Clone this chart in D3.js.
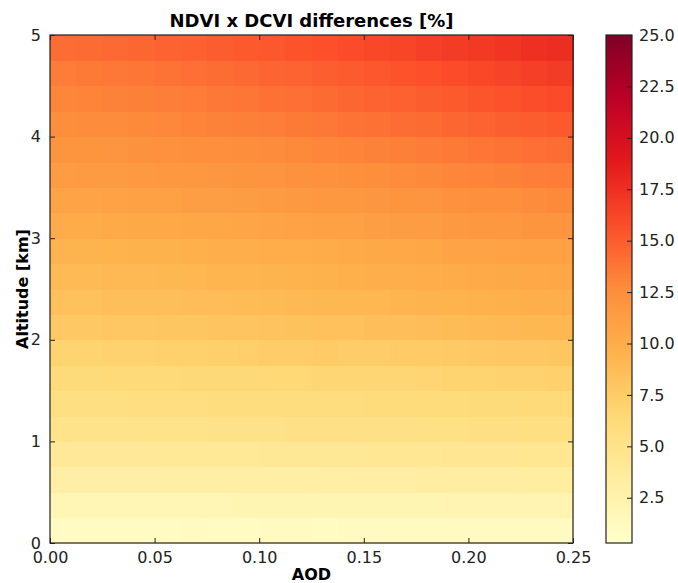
<!DOCTYPE html>
<html>
<head>
<meta charset="utf-8">
<script src="https://cdn.jsdelivr.net/npm/d3@7"></script>
<style>
  body { margin: 0; background: #fff; }
  svg text { font-family: "DejaVu Sans", "Liberation Sans", sans-serif; }
</style>
</head>
<body>
<div id="chart"></div>
<script>
// AOD bin starts (20 columns) and altitude bin starts in km (20 rows)
const aodBins = [0, 0.0125, 0.025, 0.0375, 0.05, 0.0625, 0.075, 0.0875, 0.1, 0.1125,
  0.125, 0.1375, 0.15, 0.1625, 0.175, 0.1875, 0.2, 0.2125, 0.225, 0.2375];
const altBins = [0, 0.25, 0.5, 0.75, 1, 1.25, 1.5, 1.75, 2, 2.25,
  2.5, 2.75, 3, 3.25, 3.5, 3.75, 4, 4.25, 4.5, 4.75];

// differences [%], one row per altitude bin (bottom to top), one value per AOD bin
const diffs = [
  [1.0, 1.0, 1.0, 1.0, 1.0, 1.1, 1.0, 1.0, 1.1, 1.1, 1.0, 1.1, 1.1, 1.1, 1.1, 1.1, 1.1, 1.1, 1.1, 1.1],
  [2.0, 2.0, 2.0, 2.0, 2.0, 2.0, 2.0, 2.1, 2.1, 2.1, 2.1, 2.1, 2.1, 2.1, 2.1, 2.2, 2.2, 2.2, 2.2, 2.2],
  [3.0, 3.0, 3.0, 3.0, 3.1, 3.1, 3.1, 3.1, 3.1, 3.1, 3.2, 3.2, 3.2, 3.2, 3.3, 3.3, 3.3, 3.3, 3.4, 3.4],
  [4.0, 4.0, 4.0, 4.0, 4.1, 4.1, 4.1, 4.1, 4.2, 4.2, 4.2, 4.2, 4.3, 4.3, 4.3, 4.4, 4.4, 4.4, 4.5, 4.5],
  [4.9, 4.9, 4.9, 5.0, 5.0, 5.0, 5.1, 5.1, 5.1, 5.2, 5.2, 5.2, 5.3, 5.3, 5.4, 5.4, 5.5, 5.5, 5.6, 5.6],
  [5.6, 5.6, 5.6, 5.7, 5.7, 5.7, 5.8, 5.8, 5.8, 5.9, 5.9, 5.9, 6.0, 6.0, 6.1, 6.1, 6.2, 6.2, 6.3, 6.3],
  [6.2, 6.2, 6.3, 6.3, 6.3, 6.4, 6.4, 6.4, 6.5, 6.5, 6.6, 6.6, 6.7, 6.7, 6.8, 6.9, 6.9, 7.0, 7.0, 7.1],
  [6.9, 6.9, 7.0, 7.0, 7.1, 7.1, 7.2, 7.3, 7.5, 7.5, 7.6, 7.4, 7.5, 7.6, 7.6, 7.7, 7.8, 7.9, 7.9, 8.0],
  [7.8, 7.8, 7.9, 7.9, 8.0, 8.0, 8.1, 8.1, 8.2, 8.3, 8.4, 8.4, 8.5, 8.6, 8.7, 8.8, 8.9, 9.0, 9.1, 9.2],
  [8.4, 8.4, 8.5, 8.5, 8.6, 8.7, 8.7, 8.8, 8.9, 9.0, 9.1, 9.1, 9.2, 9.3, 9.4, 9.5, 9.6, 9.7, 9.8, 9.9],
  [8.9, 8.9, 9.0, 9.0, 9.1, 9.2, 9.3, 9.3, 9.4, 9.5, 9.6, 9.7, 9.8, 9.9, 10.0, 10.1, 10.2, 10.3, 10.4, 10.5],
  [9.4, 9.4, 9.5, 9.6, 9.6, 9.7, 9.8, 9.9, 10.0, 10.0, 10.1, 10.2, 10.3, 10.4, 10.5, 10.7, 10.8, 10.9, 11.0, 11.1],
  [10.1, 10.1, 10.2, 10.3, 10.4, 10.5, 10.5, 10.6, 10.8, 10.9, 11.0, 11.1, 11.2, 11.3, 11.4, 11.6, 11.7, 11.8, 12.0, 12.1],
  [10.8, 10.8, 10.9, 11.0, 11.1, 11.2, 11.2, 11.3, 11.5, 11.6, 11.7, 11.8, 11.9, 12.0, 12.1, 12.3, 12.4, 12.5, 12.7, 12.8],
  [11.4, 11.5, 11.5, 11.6, 11.7, 11.8, 11.9, 12.0, 12.1, 12.2, 12.3, 12.4, 12.6, 12.7, 12.8, 13.0, 13.1, 13.2, 13.4, 13.5],
  [12.0, 12.0, 12.1, 12.2, 12.3, 12.4, 12.5, 12.6, 12.7, 12.8, 13.0, 13.1, 13.2, 13.3, 13.5, 13.6, 13.8, 13.9, 14.1, 14.2],
  [12.6, 12.7, 12.7, 12.8, 12.9, 13.1, 13.2, 13.3, 13.4, 13.6, 13.7, 13.9, 14.0, 14.2, 14.3, 14.5, 14.7, 14.9, 15.0, 15.2],
  [13.0, 13.1, 13.2, 13.3, 13.4, 13.5, 13.7, 13.8, 14.0, 14.1, 14.3, 14.5, 14.7, 14.8, 15.0, 15.2, 15.4, 15.6, 15.8, 16.0],
  [13.5, 13.6, 13.7, 13.8, 13.9, 14.1, 14.2, 14.4, 14.6, 14.7, 14.9, 15.1, 15.3, 15.5, 15.7, 15.9, 16.1, 16.4, 16.6, 16.8],
  [14.2, 14.3, 14.4, 14.5, 14.7, 14.8, 15.0, 15.2, 15.3, 15.5, 15.7, 15.9, 16.1, 16.3, 16.6, 16.8, 17.0, 17.2, 17.5, 17.7]
];

const xTicks = [0, 0.05, 0.1, 0.15, 0.2, 0.25];
const yTicks = [0, 1, 2, 3, 4, 5];
const cbTicks = [2.5, 5, 7.5, 10, 12.5, 15, 17.5, 20, 22.5, 25];
const colorRange = [0.3, 25];
const ylorrd = ["#ffffcc", "#ffeda0", "#fed976", "#feb24c", "#fd8d3c", "#fc4e2a", "#e31a1c", "#bd0026", "#800026"];

const width = 678, height = 583;
const plot = { left: 50, right: 573, top: 35, bottom: 543 };
const cbar = { left: 606, right: 632 };
const font = "DejaVu Sans, Liberation Sans, sans-serif";

const svg = d3.select("#chart").append("svg")
  .attr("width", width).attr("height", height)
  .attr("font-family", font);

const x = d3.scaleLinear().domain([0, 0.25]).range([plot.left, plot.right]);
const y = d3.scaleLinear().domain([0, 5]).range([plot.bottom, plot.top]);
const cbY = d3.scaleLinear().domain(colorRange).range([plot.bottom, plot.top]);

const color = d3.scaleLinear()
  .domain(ylorrd.map((c, i) => colorRange[0] + (colorRange[1] - colorRange[0]) * i / (ylorrd.length - 1)))
  .range(ylorrd)
  .interpolate(d3.interpolateRgb)
  .clamp(true);

const cells = [];
diffs.forEach((row, r) => {
  row.forEach((v, c) => cells.push({ a: aodBins[c], h: altBins[r], v: v }));
});

const dx = 0.0125, dh = 0.25;
svg.append("g").selectAll("rect")
  .data(cells)
  .join("rect")
  .attr("x", d => x(d.a))
  .attr("y", d => y(d.h + dh))
  .attr("width", d => x(d.a + dx) - x(d.a) + 0.5)
  .attr("height", d => y(d.h) - y(d.h + dh) + 0.5)
  .attr("fill", d => color(d.v))
  .attr("shape-rendering", "crispEdges");

// axes, ticks pointing inward like classic matplotlib
const tickLen = 5;
const fontSize = 16;
const axisColor = "#222";

function styleAxis(g) {
  g.attr("font-family", font).attr("font-size", fontSize);
  g.select(".domain").remove();
  g.selectAll("line").attr("stroke", axisColor);
  g.selectAll("text").attr("fill", axisColor);
}

svg.append("g")
  .attr("transform", `translate(0,${plot.bottom})`)
  .call(d3.axisBottom(x).tickValues(xTicks).tickFormat(d3.format(".2f")).tickSizeInner(-tickLen).tickSizeOuter(0).tickPadding(9))
  .call(styleAxis);
svg.append("g")
  .attr("transform", `translate(0,${plot.top})`)
  .call(d3.axisTop(x).tickValues(xTicks).tickFormat("").tickSizeInner(-tickLen).tickSizeOuter(0))
  .call(styleAxis);
svg.append("g")
  .attr("transform", `translate(${plot.left},0)`)
  .call(d3.axisLeft(y).tickValues(yTicks).tickFormat(d3.format("d")).tickSizeInner(-tickLen).tickSizeOuter(0).tickPadding(9))
  .call(styleAxis);
svg.append("g")
  .attr("transform", `translate(${plot.right},0)`)
  .call(d3.axisRight(y).tickValues(yTicks).tickFormat("").tickSizeInner(-tickLen).tickSizeOuter(0))
  .call(styleAxis);

svg.append("rect")
  .attr("x", plot.left).attr("y", plot.top)
  .attr("width", plot.right - plot.left).attr("height", plot.bottom - plot.top)
  .attr("fill", "none").attr("stroke", axisColor).attr("stroke-width", 1.2);

// colorbar
const defs = svg.append("defs");
const grad = defs.append("linearGradient").attr("id", "cbgrad")
  .attr("x1", 0).attr("y1", 1).attr("x2", 0).attr("y2", 0);
ylorrd.forEach((c, i) => {
  grad.append("stop").attr("offset", i / (ylorrd.length - 1)).attr("stop-color", c);
});
svg.append("rect")
  .attr("x", cbar.left).attr("y", plot.top)
  .attr("width", cbar.right - cbar.left).attr("height", plot.bottom - plot.top)
  .attr("fill", "url(#cbgrad)");
svg.append("g")
  .attr("transform", `translate(${cbar.right},0)`)
  .call(d3.axisRight(cbY).tickValues(cbTicks).tickFormat(d3.format(".1f")).tickSizeInner(-tickLen).tickSizeOuter(0).tickPadding(7))
  .call(styleAxis);
svg.append("rect")
  .attr("x", cbar.left).attr("y", plot.top)
  .attr("width", cbar.right - cbar.left).attr("height", plot.bottom - plot.top)
  .attr("fill", "none").attr("stroke", axisColor).attr("stroke-width", 1.2);

// labels
svg.append("text")
  .attr("x", (plot.left + plot.right) / 2).attr("y", 27)
  .attr("text-anchor", "middle")
  .attr("font-size", 18).attr("font-weight", "bold")
  .text("NDVI x DCVI differences [%]");
svg.append("text")
  .attr("x", (plot.left + plot.right) / 2).attr("y", 580)
  .attr("text-anchor", "middle")
  .attr("font-size", 16).attr("font-weight", "bold")
  .text("AOD");
svg.append("text")
  .attr("transform", `translate(28,${(plot.top + plot.bottom) / 2}) rotate(-90)`)
  .attr("text-anchor", "middle")
  .attr("font-size", 16).attr("font-weight", "bold")
  .text("Altitude [km]");
</script>
</body>
</html>
